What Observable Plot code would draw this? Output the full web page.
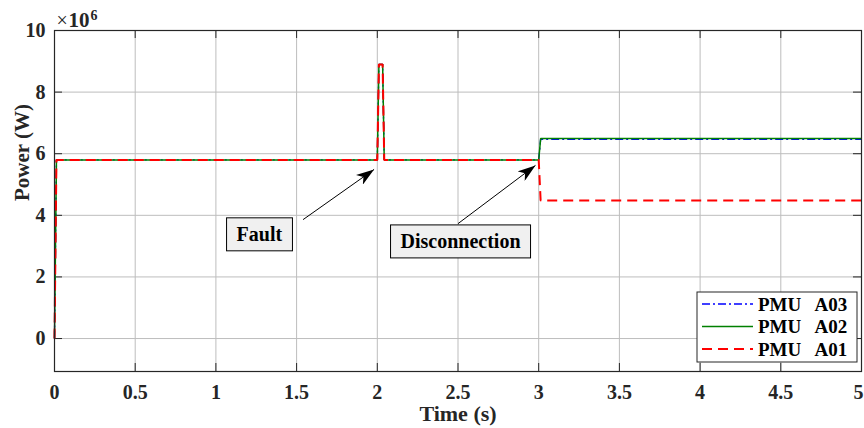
<!DOCTYPE html>
<html><head><meta charset="utf-8">
<script src="https://cdn.jsdelivr.net/npm/d3@7"></script>
<script src="https://cdn.jsdelivr.net/npm/@observablehq/plot@0.6"></script>
<style>
body{margin:0;background:#fff}
#chart svg{display:block}
</style>
</head><body><div id="chart"></div>
<script>
// ---- data ----
const time   = [0, 0.012, 2.0, 2.01, 2.033, 2.043, 3.0, 3.012, 5];
const pmuA01 = [0, 5.8e6, 5.8e6, 8.9e6, 8.9e6, 5.8e6, 5.8e6, 4.48e6, 4.48e6];
const pmuA02 = [0, 5.8e6, 5.8e6, 8.9e6, 8.9e6, 5.8e6, 5.8e6, 6.49e6, 6.49e6];
const pmuA03 = [0, 5.8e6, 5.8e6, 8.9e6, 8.9e6, 5.8e6, 5.8e6, 6.47e6, 6.47e6];
const seriesNames = ["PMU   A03", "PMU   A02", "PMU   A01"];
const xTicks = [0, 0.5, 1, 1.5, 2, 2.5, 3, 3.5, 4, 4.5, 5];
const yTicks = [0, 2e6, 4e6, 6e6, 8e6, 10e6];
const annLabels = ["Fault", "Disconnection"];
const annTextX  = [1.128, 2.144];
const annTextY  = [3.38e6, 3.15e6];
const annFromX  = [1.54, 2.50];
const annFromY  = [3.86e6, 3.73e6];
const annToX    = [1.98, 2.98];
const annToY    = [5.49e6, 5.62e6];

// ---- build tables ----
const styles = [
  {color: "#0000ff", dash: "8,3,2,3", width: 1.4},
  {color: "#008000", dash: null, width: 1.5},
  {color: "#ff0000", dash: "10,6", width: 2}
];
const seriesValues = [pmuA03, pmuA02, pmuA01];
const series = seriesNames.map((name, i) => ({
  name, ...styles[i],
  data: time.map((t, j) => ({t, v: seriesValues[i][j]}))
}));
const annotations = annLabels.map((label, i) => ({
  label, tx: annTextX[i], ty: annTextY[i],
  x1: annFromX[i], y1: annFromY[i], x2: annToX[i], y2: annToY[i]
}));

const font = "'Liberation Serif','Times New Roman',serif";
const axisColor = "#262626";
const lastX = xTicks[xTicks.length - 1];

const chart = Plot.plot({
  width: 864, height: 428,
  marginLeft: 54, marginRight: 3, marginTop: 30, marginBottom: 57,
  style: {fontFamily: font, fontSize: "20px", fontWeight: "bold", color: axisColor, background: "#fff", overflow: "visible"},
  x: {domain: [0, 5], label: null},
  y: {domain: [-1.07e6, 10e6], label: null},
  marks: [
    Plot.gridX(xTicks, {stroke: "#bdbdbd", strokeOpacity: 1, strokeWidth: 1}),
    Plot.gridY(yTicks, {stroke: "#bdbdbd", strokeOpacity: 1, strokeWidth: 1}),
    Plot.axisX(xTicks.filter(d => d !== lastX), {tickSize: 0, tickPadding: 13, tickFormat: d => String(d), label: null, fontSize: 20}),
    Plot.axisX([lastX], {tickSize: 0, tickPadding: 13, tickFormat: d => String(d), label: null, fontSize: 20, dx: -3}),
    Plot.axisY(yTicks, {tickSize: 0, tickPadding: 9, tickFormat: d => String(d / 1e6), label: null, fontSize: 20}),
    // inward MATLAB-style ticks
    Plot.tickX(xTicks, {x: d => d, insetTop: 333, stroke: axisColor}),
    Plot.tickX(xTicks, {x: d => d, insetBottom: 333, stroke: axisColor}),
    Plot.tickY(yTicks, {y: d => d, insetRight: 799, stroke: axisColor}),
    Plot.tickY(yTicks, {y: d => d, insetLeft: 799, stroke: axisColor}),
    ...series.map(s => Plot.line(s.data, {
      x: "t", y: "v", stroke: s.color, strokeWidth: s.width,
      strokeDasharray: s.dash || undefined, strokeLinejoin: "miter", strokeLinecap: "butt"
    })),
    Plot.frame({stroke: axisColor, strokeWidth: 1.2}),
    Plot.link(annotations, {x1: "x1", y1: "y1", x2: "x2", y2: "y2", stroke: "#000", strokeWidth: 1, className: "annot-arrow"}),
    Plot.text(annotations, {x: "tx", y: "ty", text: "label", textAnchor: "start", fontSize: 20, fill: "#000", className: "annot-text"}),
    Plot.text(["Time (s)"], {frameAnchor: "bottom", lineAnchor: "middle", dy: 42, fontSize: 22, fill: axisColor}),
    Plot.text(["Power (W)"], {frameAnchor: "left", lineAnchor: "middle", dx: -32, rotate: -90, fontSize: 21, fill: axisColor}),
    Plot.text(["\u00d7"], {frameAnchor: "top-left", textAnchor: "start", lineAnchor: "bottom", dx: 2, dy: -4, fontSize: 20, fontWeight: "normal", fill: axisColor}),
    Plot.text(["10"], {frameAnchor: "top-left", textAnchor: "start", lineAnchor: "bottom", dx: 14, dy: -4, fontSize: 21, fill: axisColor}),
    Plot.text(["6"], {frameAnchor: "top-left", textAnchor: "start", lineAnchor: "bottom", dx: 36, dy: -11, fontSize: 14, fill: axisColor})
  ]
});
document.getElementById("chart").appendChild(chart);

const svg = d3.select(chart);
// filled arrow head marker
const defs = svg.insert("defs", ":first-child");
defs.append("marker")
  .attr("id", "annHead").attr("viewBox", "0 0 18 12")
  .attr("markerWidth", 18).attr("markerHeight", 12)
  .attr("refX", 18).attr("refY", 6).attr("orient", "auto")
  .attr("markerUnits", "userSpaceOnUse")
  .append("path").attr("d", "M0,0L18,6L0,12L5,6Z").attr("fill", "#000");
svg.selectAll(".annot-arrow path, .annot-arrow line").attr("marker-end", "url(#annHead)");

// text boxes behind annotation labels
svg.selectAll(".annot-text text").each(function() {
  const b = this.getBBox();
  d3.select(this.parentNode).insert("rect", () => this)
    .attr("transform", this.getAttribute("transform"))
    .attr("x", b.x - 10).attr("y", b.y + b.height / 2 - 16)
    .attr("width", b.width + 20).attr("height", 33)
    .attr("fill", "#f0f0f0").attr("stroke", "#000").attr("stroke-width", 1);
});

// legend
const lg = svg.append("g").attr("transform", "translate(697,292)");
lg.append("rect").attr("width", 160).attr("height", 70)
  .attr("fill", "#fff").attr("stroke", axisColor).attr("stroke-width", 1);
series.forEach((s, i) => {
  const y = 12 + i * 22.5;
  lg.append("line").attr("x1", 5).attr("x2", 56).attr("y1", y).attr("y2", y)
    .attr("stroke", s.color).attr("stroke-width", s.width)
    .attr("stroke-dasharray", s.dash || null);
  lg.append("text").attr("x", 61).attr("y", y).attr("dy", "0.35em")
    .attr("text-anchor", "start")
    .style("white-space", "pre")
    .attr("font-family", font).attr("font-weight", "bold").attr("font-size", 19)
    .attr("fill", "#000").text(s.name);
});
</script>
</body></html>
